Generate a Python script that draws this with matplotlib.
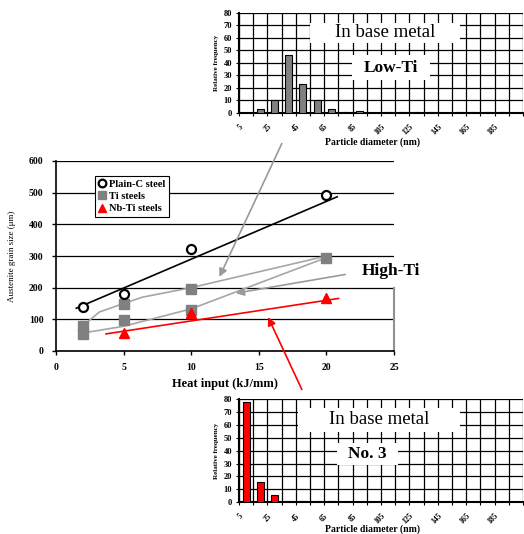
import numpy as np
import matplotlib
matplotlib.use("Agg")
import matplotlib.pyplot as plt
from matplotlib.patches import Rectangle

plt.rcParams["font.family"] = ["Liberation Serif", "DejaVu Serif"]

# Main chart data
plain_x = [2, 5, 10, 20]
plain_y = [140, 180, 322, 492]
plain_trend_x = [1.5, 20.8]
plain_trend_y = [135, 487]

ti_x = [2, 2, 5, 5, 10, 10, 20]
ti_y = [80, 55, 148, 97, 197, 128, 295]
ti_upper_x = [2, 3.2, 5, 6.4, 10, 20]
ti_upper_y = [80, 123, 150, 170, 200, 300]
ti_lower_x = [2, 5, 10, 20]
ti_lower_y = [57, 78, 133, 295]

nbti_x = [5, 10, 20]
nbti_y = [58, 120, 168]
nbti_trend_x = [3.7, 20.9]
nbti_trend_y = [54, 166]

# Histogram data (bin edges 5..205 nm, labelled every other edge)
bin_edges = list(range(5, 206, 10))
bin_centers = list(range(10, 201, 10))
edge_labels = ["5", "", "25", "", "45", "", "65", "", "85", "", "105", "",
               "125", "", "145", "", "165", "", "185", "", ""]
low_ti_freq = [0, 3, 10, 46, 23, 10, 3, 1, 1.5, 0, 1, 0.5, 1, 0.5, 0,
               0.5, 0.5, 0.5, 0.5, 0]
no3_freq = [78, 16, 6, 1, 1, 1, 1, 0, 0, 0, 0, 0, 0, 0, 0, 0, 0, 0, 0, 0]

W, H = 524, 534


def fx(px):
    return px / W


def fy(py):
    return 1 - py / H


fig = plt.figure(figsize=(W / 100, H / 100), dpi=100)
fig.patch.set_facecolor("white")

# ---------------- main chart ----------------
ax = fig.add_axes([fx(56), fy(351), 338 / W, 190 / H])
ax.set_xlim(0, 25)
ax.set_ylim(0, 600)
ax.set_xticks(range(0, 26, 5))
ax.set_yticks(range(0, 601, 100))
ax.yaxis.grid(True, color="black", lw=0.9)
ax.set_axisbelow(True)
ax.spines["top"].set_visible(False)
ax.spines["right"].set_color("#909090")
ax.spines["right"].set_linewidth(1.5)
ax.spines["right"].set_bounds(0, 200)
ax.spines["left"].set_linewidth(1.2)
ax.spines["bottom"].set_linewidth(1.2)
ax.tick_params(direction="out", length=3, width=1, labelsize=7, pad=6)
for lab in ax.get_xticklabels() + ax.get_yticklabels():
    lab.set_fontweight("bold")
ax.set_xlabel("Heat input (kJ/mm)", fontsize=9, fontweight="bold", labelpad=4)
ax.set_ylabel("Austenite grain size (μm)", fontsize=6.5, labelpad=9)

ax.plot(ti_upper_x, ti_upper_y, color="#a6a6a6", lw=1.2, zorder=2)
ax.plot(ti_lower_x, ti_lower_y, color="#a6a6a6", lw=1.2, zorder=2)
ax.plot(plain_trend_x, plain_trend_y, color="black", lw=1.2, zorder=2)
ax.plot(nbti_trend_x, nbti_trend_y, color="red", lw=1.2, zorder=2)

ax.plot(plain_x, plain_y, "o", ms=6.5, mfc="white", mec="black", mew=1.6,
        label="Plain-C steel", zorder=4)
ax.plot(ti_x, ti_y, "s", ms=6.5, mfc="#808080", mec="#808080",
        label="Ti steels", zorder=3)
ax.plot(nbti_x, nbti_y, "^", ms=6.5, mfc="red", mec="red",
        label="Nb-Ti steels", zorder=3)

leg = ax.legend(loc="upper left", bbox_to_anchor=(0.1, 0.95), fancybox=False,
                edgecolor="black", framealpha=1, handlelength=0.7,
                handletextpad=0.3, borderpad=0.35, labelspacing=0.3,
                markerscale=0.85, prop={"size": 7.5, "weight": "bold"})
leg.get_frame().set_linewidth(0.8)

# arrows
ax.annotate("", xy=(12.0, 226), xycoords="data",
            xytext=(fx(283), fy(141)), textcoords="figure fraction",
            arrowprops=dict(arrowstyle="-|>", color="#9a9a9a", lw=1.2,
                            mutation_scale=12), annotation_clip=False)
ax.annotate("", xy=(13.1, 181), xycoords="data",
            xytext=(fx(348), fy(274)), textcoords="figure fraction",
            arrowprops=dict(arrowstyle="-|>", color="#9a9a9a", lw=1.2,
                            mutation_scale=12), annotation_clip=False)
ax.annotate("", xy=(15.6, 115), xycoords="data",
            xytext=(fx(303), fy(392)), textcoords="figure fraction",
            arrowprops=dict(arrowstyle="-|>", color="red", lw=1.2,
                            mutation_scale=12), annotation_clip=False)

fig.text(fx(362), fy(271), "High-Ti", fontsize=12.5, fontweight="bold",
         ha="left", va="center")


# ---------------- histograms ----------------
def histogram(rect, freq, color, title, tag, tag_box, title_box, label_y):
    h = fig.add_axes(rect)
    h.set_xlim(5, 205)
    h.set_ylim(0, 80)
    h.bar(bin_centers, freq, width=5, color=color, edgecolor="black",
          lw=0.8, zorder=3)
    h.set_xticks(bin_edges)
    h.set_xticklabels(edge_labels, rotation=45, ha="right", va="top",
                      rotation_mode="anchor")
    h.set_yticks(range(0, 81, 10))
    h.grid(True, color="black", lw=0.9)
    h.set_axisbelow(True)
    for s in ["top", "right"]:
        h.spines[s].set_visible(False)
    h.spines["left"].set_linewidth(1.5)
    h.spines["bottom"].set_linewidth(1.5)
    h.tick_params(direction="out", length=2, width=0.8, labelsize=6, pad=3)
    h.tick_params(axis="x", labelsize=5.5, pad=5)
    for lab in h.get_xticklabels() + h.get_yticklabels():
        lab.set_fontweight("bold")
    h.set_xlabel("Particle diameter (nm)", fontsize=7, fontweight="bold",
                 va="center")
    h.xaxis.set_label_coords(0.47, label_y)
    h.set_ylabel("Relative frequency", fontsize=5, fontweight="bold",
                 labelpad=3)
    x0, y0, x1, y1 = title_box
    h.add_patch(Rectangle((x0, y0), x1 - x0, y1 - y0, transform=h.transAxes,
                          facecolor="white", edgecolor="none", zorder=4))
    h.text((x0 + x1) / 2, (y0 + y1) / 2, title, transform=h.transAxes,
           fontsize=13.5, ha="center", va="center", zorder=5)
    x0, y0, x1, y1 = tag_box
    h.add_patch(Rectangle((x0, y0), x1 - x0, y1 - y0, transform=h.transAxes,
                          facecolor="white", edgecolor="none", zorder=4))
    h.text((x0 + x1) / 2, (y0 + y1) / 2, tag, transform=h.transAxes,
           fontsize=12.5, fontweight="bold", ha="center", va="center", zorder=5)
    return h


histogram([fx(239), fy(113), 284 / W, 100.5 / H], low_ti_freq, "#808080",
          "In base metal", "Low-Ti",
          (0.398, 0.328, 0.673, 0.577), (0.25, 0.697, 0.778, 0.896), -0.29)
histogram([fx(239), fy(502.3), 284 / W, 103.3 / H], no3_freq, "red",
          "In base metal", "No. 3",
          (0.345, 0.361, 0.56, 0.574), (0.208, 0.681, 0.778, 0.913), -0.265)

fig.savefig("out.png", dpi=100, facecolor="white")
